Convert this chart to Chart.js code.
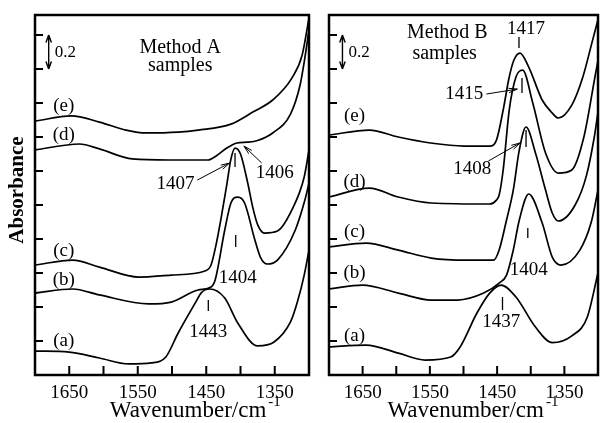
<!DOCTYPE html>
<html>
<head>
<meta charset="utf-8">
<script src="https://cdn.jsdelivr.net/npm/chart.js@4.4.0/dist/chart.umd.min.js"></script>
<style>
  html, body { margin: 0; padding: 0; background: #fff; }
  #wrap { position: relative; width: 605px; height: 423px; }
  .panel { position: absolute; top: 0; }
  #panelA { left: 0; }
  #panelB { left: 316px; }
</style>
</head>
<body>
<div id="wrap">
  <div class="panel" id="panelA"><canvas id="chartA" width="316" height="423"></canvas></div>
  <div class="panel" id="panelB"><canvas id="chartB" width="289" height="423"></canvas></div>
</div>
<script>
// valeurs : nombre d'onde (cm-1) et absorbance (u.a.)
const xTickLabels = [1650, 1550, 1450, 1350];
const seriesNames = ['(a)', '(b)', '(c)', '(d)', '(e)'];

// Method A
const aWn_a  = [1700, 1650, 1606, 1563, 1530, 1509, 1491, 1466, 1457, 1445, 1423, 1404, 1375, 1351, 1327, 1317, 1307, 1300];
const aAbs_a = [0.141, 0.135, 0.100, 0.065, 0.071, 0.106, 0.247, 0.424, 0.485, 0.506, 0.453, 0.306, 0.171, 0.194, 0.312, 0.429, 0.588, 0.735];
const aWn_b  = [1700, 1645, 1606, 1534, 1501, 1462, 1443, 1437, 1423, 1414, 1404, 1394, 1379, 1371, 1361, 1346, 1320, 1306, 1300];
const aAbs_b = [0.482, 0.506, 0.471, 0.418, 0.429, 0.500, 0.518, 0.559, 0.853, 1.012, 1.047, 1.012, 0.794, 0.694, 0.653, 0.676, 0.853, 1.029, 1.129];
const aWn_c  = [1700, 1645, 1606, 1548, 1501, 1452, 1443, 1436, 1428, 1420, 1414, 1408, 1400, 1390, 1382, 1375, 1365, 1346, 1325, 1307, 1300];
const aAbs_c = [0.647, 0.676, 0.635, 0.576, 0.588, 0.612, 0.647, 0.760, 0.930, 1.120, 1.270, 1.335, 1.300, 1.140, 0.985, 0.885, 0.835, 0.847, 0.971, 1.165, 1.324];
const aWn_d  = [1700, 1635, 1606, 1558, 1505, 1447, 1435, 1420, 1405, 1390, 1375, 1353, 1327, 1313, 1307, 1300];
const aAbs_d = [1.324, 1.359, 1.330, 1.271, 1.265, 1.265, 1.290, 1.335, 1.365, 1.370, 1.380, 1.424, 1.535, 1.706, 1.841, 2.030];
const aWn_e  = [1700, 1647, 1606, 1567, 1538, 1491, 1462, 1414, 1382, 1353, 1325, 1310, 1300];
const aAbs_e = [1.494, 1.524, 1.488, 1.441, 1.424, 1.429, 1.441, 1.476, 1.547, 1.618, 1.747, 1.882, 2.100];

// Method B
const bWn_a  = [1700, 1645, 1597, 1557, 1519, 1505, 1480, 1461, 1444, 1422, 1393, 1368, 1339, 1316, 1300];
const bAbs_a = [0.165, 0.176, 0.129, 0.088, 0.106, 0.165, 0.365, 0.482, 0.529, 0.459, 0.282, 0.190, 0.230, 0.340, 0.600];
const bWn_b  = [1700, 1650, 1597, 1548, 1509, 1470, 1447, 1436, 1426, 1417, 1403, 1383, 1368, 1355, 1327, 1310, 1300];
const bAbs_b = [0.506, 0.529, 0.482, 0.441, 0.441, 0.482, 0.541, 0.588, 0.735, 0.912, 1.065, 0.894, 0.694, 0.647, 0.735, 0.900, 1.088];
const bWn_c  = [1700, 1645, 1597, 1548, 1495, 1455, 1447, 1436, 1426, 1417, 1407, 1393, 1378, 1368, 1359, 1334, 1317, 1305, 1300];
const bAbs_c = [0.753, 0.776, 0.735, 0.688, 0.676, 0.676, 0.735, 0.912, 1.088, 1.324, 1.459, 1.306, 1.088, 0.953, 0.906, 1.000, 1.176, 1.412, 1.547];
const bWn_d  = [1700, 1640, 1597, 1548, 1461, 1451, 1447, 1441, 1432, 1422, 1412, 1397, 1378, 1359, 1339, 1321, 1304, 1300];
const bAbs_d = [1.047, 1.100, 1.047, 1.012, 1.006, 1.029, 1.059, 1.206, 1.559, 1.753, 1.794, 1.600, 1.306, 1.188, 1.206, 1.400, 1.765, 1.850];
const bWn_e  = [1700, 1640, 1597, 1549, 1499, 1461, 1451, 1441, 1432, 1425, 1416, 1403, 1383, 1368, 1359, 1339, 1323, 1308, 1300];
const bAbs_e = [1.412, 1.441, 1.400, 1.365, 1.347, 1.347, 1.382, 1.559, 1.753, 1.853, 1.894, 1.812, 1.618, 1.541, 1.512, 1.588, 1.747, 1.970, 2.090];

const SERIF = "'Liberation Serif', 'Times New Roman', serif";

// annotations (texte, flèches, repères) en coordonnées des données
const notesA = {
  texts: [
    { t: 'Method A', wn: 1488, a: 1.924, big: true },
    { t: 'samples', wn: 1488, a: 1.818, big: true },
    { t: '(e)', wn: 1658, a: 1.582 },
    { t: '(d)', wn: 1658, a: 1.412 },
    { t: '(c)', wn: 1658, a: 0.729 },
    { t: '(b)', wn: 1658, a: 0.559 },
    { t: '(a)', wn: 1658, a: 0.200 },
    { t: '1407', wn: 1495, a: 1.124 },
    { t: '1406', wn: 1350, a: 1.188 },
    { t: '1404', wn: 1404, a: 0.571 },
    { t: '1443', wn: 1447, a: 0.253 }
  ],
  arrows: [
    { from: [1463, 1.147], to: [1416, 1.247] },
    { from: [1369, 1.247], to: [1395, 1.347] }
  ],
  marks: [
    { wn: 1408, a1: 1.224, a2: 1.306 },
    { wn: 1407, a1: 0.753, a2: 0.824 },
    { wn: 1447, a1: 0.376, a2: 0.441 }
  ],
  bar: { wn: 1680, a1: 1.8, a2: 2.0, label: '0.2' },
  yTitle: 'Absorbance',
  titleWn: 1466
};

const notesB = {
  texts: [
    { t: 'Method B', wn: 1524, a: 2.012, big: true },
    { t: 'samples', wn: 1528, a: 1.888, big: true },
    { t: '(e)', wn: 1662, a: 1.524 },
    { t: '(d)', wn: 1662, a: 1.135 },
    { t: '(c)', wn: 1662, a: 0.841 },
    { t: '(b)', wn: 1662, a: 0.600 },
    { t: '(a)', wn: 1662, a: 0.229 },
    { t: '1417', wn: 1407, a: 2.035 },
    { t: '1415', wn: 1499, a: 1.653 },
    { t: '1408', wn: 1487, a: 1.212 },
    { t: '1404', wn: 1403, a: 0.618 },
    { t: '1437', wn: 1444, a: 0.312 }
  ],
  arrows: [
    { from: [1466, 1.653], to: [1420, 1.682] },
    { from: [1463, 1.259], to: [1416, 1.365] }
  ],
  marks: [
    { wn: 1417.5, a1: 1.924, a2: 1.988 },
    { wn: 1413, a1: 1.659, a2: 1.747 },
    { wn: 1407, a1: 1.341, a2: 1.441 },
    { wn: 1404.4, a1: 0.806, a2: 0.865 },
    { wn: 1442, a1: 0.382, a2: 0.459 }
  ],
  bar: { wn: 1680, a1: 1.8, a2: 2.0, label: '0.2' },
  yTitle: null,
  titleWn: 1486
};

function arrowHead(ctx, x0, y0, x1, y1, len, spread) {
  const ang = Math.atan2(y1 - y0, x1 - x0);
  ctx.moveTo(x1, y1);
  ctx.lineTo(x1 - len * Math.cos(ang - spread), y1 - len * Math.sin(ang - spread));
  ctx.moveTo(x1, y1);
  ctx.lineTo(x1 - len * Math.cos(ang + spread), y1 - len * Math.sin(ang + spread));
}

// cadre, graduations vers l'intérieur et annotations
const decorPlugin = {
  id: 'decor',
  afterDraw(chart, args, opts) {
    const ctx = chart.ctx;
    const ca = chart.chartArea;
    const xs = chart.scales.x, ys = chart.scales.y;
    const px = v => xs.getPixelForValue(v);
    const py = v => ys.getPixelForValue(v);
    const n = opts.notes;
    ctx.save();
    ctx.strokeStyle = '#000';
    ctx.fillStyle = '#000';

    ctx.lineWidth = 2.5;
    ctx.strokeRect(ca.left, ca.top, ca.right - ca.left, ca.bottom - ca.top);

    ctx.lineWidth = 2;
    ctx.beginPath();
    xs.ticks.forEach(t => {
      if (t.value > xs.min && t.value < xs.max) {
        ctx.moveTo(px(t.value), ca.bottom);
        ctx.lineTo(px(t.value), ca.bottom - 9);
      }
    });
    ys.ticks.forEach(t => {
      const k = t.value / 0.2;
      if (t.value > 0 && Math.abs(k - Math.round(k)) < 1e-6) {
        ctx.moveTo(ca.left, py(t.value));
        ctx.lineTo(ca.left + 8, py(t.value));
      }
    });
    ctx.stroke();

    // textes
    ctx.textAlign = 'center';
    ctx.textBaseline = 'middle';
    n.texts.forEach(tx => {
      ctx.font = (tx.big ? '20px ' : '19px ') + SERIF;
      ctx.fillText(tx.t, px(tx.wn), py(tx.a));
    });

    // flèches
    ctx.lineWidth = 1;
    ctx.beginPath();
    n.arrows.forEach(ar => {
      const x0 = px(ar.from[0]), y0 = py(ar.from[1]);
      const x1 = px(ar.to[0]), y1 = py(ar.to[1]);
      ctx.moveTo(x0, y0);
      ctx.lineTo(x1, y1);
      arrowHead(ctx, x0, y0, x1, y1, 9, 0.25);
    });
    ctx.stroke();

    // repères des pics
    ctx.lineWidth = 1.3;
    ctx.beginPath();
    n.marks.forEach(m => {
      ctx.moveTo(px(m.wn), py(m.a1));
      ctx.lineTo(px(m.wn), py(m.a2));
    });
    ctx.stroke();

    // barre d'échelle 0.2
    const b = n.bar;
    const bx = px(b.wn), by1 = py(b.a1), by2 = py(b.a2);
    ctx.lineWidth = 1.4;
    ctx.beginPath();
    ctx.moveTo(bx, by1);
    ctx.lineTo(bx, by2);
    arrowHead(ctx, bx, by1, bx, by2, 8, 0.35);
    arrowHead(ctx, bx, by2, bx, by1, 8, 0.35);
    ctx.stroke();
    ctx.textAlign = 'left';
    ctx.font = '17px ' + SERIF;
    ctx.fillText(b.label, bx + 6, (by1 + by2) / 2);

    // titre de l'axe x avec exposant
    const main = 'Wavenumber/cm', sup = '-1';
    ctx.font = '23px ' + SERIF;
    const wMain = ctx.measureText(main).width;
    ctx.font = '15px ' + SERIF;
    const wSup = ctx.measureText(sup).width;
    const x0 = px(n.titleWn) - (wMain + wSup + 2) / 2;
    ctx.textBaseline = 'alphabetic';
    ctx.font = '23px ' + SERIF;
    ctx.fillText(main, x0, ca.bottom + 42);
    ctx.font = '15px ' + SERIF;
    ctx.fillText(sup, x0 + wMain + 2, ca.bottom + 31);

    // titre de l'axe y
    if (n.yTitle) {
      ctx.translate(18, 190);
      ctx.rotate(-Math.PI / 2);
      ctx.textAlign = 'center';
      ctx.textBaseline = 'middle';
      ctx.font = 'bold 21px ' + SERIF;
      ctx.fillText(n.yTitle, 0, 0);
    }
    ctx.restore();
  }
};

function buildDatasets(wnList, absList) {
  return wnList.map((wn, i) => ({
    label: seriesNames[i],
    data: wn.map((w, j) => ({ x: w, y: absList[i][j] })),
    borderColor: '#000',
    borderWidth: 1.7,
    pointRadius: 0,
    fill: false,
    cubicInterpolationMode: 'monotone'
  }));
}

function makeChart(id, datasets, notes, yWidth, padRight) {
  return new Chart(document.getElementById(id), {
    type: 'line',
    data: { datasets: datasets },
    options: {
      responsive: false,
      animation: false,
      devicePixelRatio: 1,
      layout: { padding: { top: 15, right: padRight, left: 0, bottom: 0 } },
      plugins: {
        legend: { display: false },
        tooltip: { enabled: false },
        decor: { notes: notes }
      },
      scales: {
        x: {
          type: 'linear',
          reverse: true,
          min: 1300,
          max: 1700,
          grid: { display: false, drawTicks: false },
          border: { display: false },
          ticks: {
            stepSize: 50,
            autoSkip: false,
            maxRotation: 0,
            padding: 7,
            color: '#000',
            font: { family: SERIF, size: 19 },
            callback: v => xTickLabels.includes(v) ? String(v) : ''
          },
          afterFit: s => { s.height = 48; }
        },
        y: {
          type: 'linear',
          min: 0,
          max: 2.118,
          grid: { display: false, drawTicks: false },
          border: { display: false },
          ticks: { display: false, stepSize: 0.2 },
          afterFit: s => { s.width = yWidth; }
        }
      }
    },
    plugins: [decorPlugin]
  });
}

makeChart('chartA',
  buildDatasets([aWn_a, aWn_b, aWn_c, aWn_d, aWn_e], [aAbs_a, aAbs_b, aAbs_c, aAbs_d, aAbs_e]),
  notesA, 35, 4);
makeChart('chartB',
  buildDatasets([bWn_a, bWn_b, bWn_c, bWn_d, bWn_e], [bAbs_a, bAbs_b, bAbs_c, bAbs_d, bAbs_e]),
  notesB, 13, 2);
</script>
</body>
</html>
